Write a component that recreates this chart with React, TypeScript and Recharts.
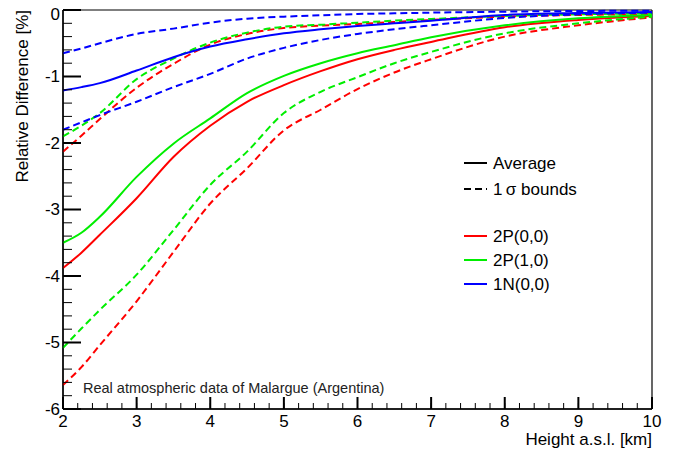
import React from "react"
import { LineChart, Line, XAxis, YAxis, ReferenceLine } from "recharts"

// height a.s.l. [km]
const heights = [2, 2.25, 2.5, 3, 3.5, 4, 4.5, 5, 5.5, 6, 6.5, 7, 8, 9, 10]

// 2P(0,0)
const redAvg = [-3.88, -3.65, -3.38, -2.83, -2.21, -1.74, -1.38, -1.13, -0.92, -0.74, -0.6, -0.48, -0.26, -0.15, -0.09]
const redHi = [-2.13, -1.89, -1.64, -1.17, -0.81, -0.52, -0.36, -0.27, -0.235, -0.21, -0.18, -0.15, -0.1, -0.075, -0.06]
const redLo = [-5.64, -5.37, -5.04, -4.38, -3.64, -2.91, -2.38, -1.81, -1.5, -1.19, -0.94, -0.74, -0.4, -0.23, -0.11]

// 2P(1,0)
const greenAvg = [-3.5, -3.35, -3.11, -2.51, -2.01, -1.63, -1.25, -0.99, -0.8, -0.65, -0.53, -0.41, -0.23, -0.125, -0.075]
const greenHi = [-1.9, -1.74, -1.55, -1.04, -0.73, -0.49, -0.34, -0.25, -0.22, -0.19, -0.16, -0.135, -0.09, -0.065, -0.05]
const greenLo = [-5.08, -4.79, -4.51, -3.98, -3.31, -2.63, -2.13, -1.55, -1.23, -1.01, -0.8, -0.63, -0.35, -0.2, -0.1]

// 1N(0,0)
const blueAvg = [-1.21, -1.16, -1.1, -0.91, -0.71, -0.55, -0.44, -0.35, -0.29, -0.24, -0.2, -0.16, -0.075, -0.045, -0.03]
const blueHi = [-0.65, -0.58, -0.5, -0.36, -0.28, -0.19, -0.13, -0.1, -0.08, -0.06, -0.05, -0.04, -0.025, -0.015, -0.01]
const blueLo = [-1.8, -1.69, -1.58, -1.38, -1.16, -0.96, -0.73, -0.57, -0.45, -0.36, -0.29, -0.23, -0.12, -0.065, -0.04]

// axis ticks (major + minor every 0.2)
const xTicks = Array.from({ length: 41 }, (_, i) => Math.round((2 + i * 0.2) * 10) / 10)
const yTicks = Array.from({ length: 31 }, (_, i) => Math.round((-6 + i * 0.2) * 10) / 10)

const legendStyles = ["Average", "1\u2009σ bounds"]
const legendSeries = ["2P(0,0)", "2P(1,0)", "1N(0,0)"]
const seriesColors = ["#ff0000", "#00ee00", "#0000ff"]

const data = heights.map((h, i) => ({
  h,
  redAvg: redAvg[i],
  redHi: redHi[i],
  redLo: redLo[i],
  greenAvg: greenAvg[i],
  greenHi: greenHi[i],
  greenLo: greenLo[i],
  blueAvg: blueAvg[i],
  blueHi: blueHi[i],
  blueLo: blueLo[i],
}))

const FONT = '"Liberation Sans", Arial, Helvetica, sans-serif'
const isMajor = (v: number) => Math.abs(v - Math.round(v)) < 1e-6

// native tick lines point inward (negative tickSize); majors get a longer stub + label
const X_TICK = 6
const Y_TICK = 9

const XTick = (props: any) => {
  const major = isMajor(props.payload.value)
  const x = Number(props.x)
  const axisY = Number(props.y) + X_TICK
  if (!major) return <g />
  return (
    <g>
      <rect x={x - 1} y={axisY - 12} width={2} height={12} fill="#000" />
      <text x={x} y={axisY + 12} textAnchor="middle" dominantBaseline="central" fontSize={17} fontFamily={FONT} fill="#000">
        {Math.round(props.payload.value)}
      </text>
    </g>
  )
}

const YTick = (props: any) => {
  const major = isMajor(props.payload.value)
  const axisX = Number(props.x) - Y_TICK
  const y = Number(props.y)
  const v = Math.round(props.payload.value)
  if (!major) return <g />
  return (
    <g>
      <rect x={axisX} y={y - 1} width={18} height={2} fill="#000" />
      <text x={axisX - 3} y={y + (v === 0 ? 4 : 0)} textAnchor="end" dominantBaseline="central" fontSize={17} fontFamily={FONT} fill="#000">
        {v}
      </text>
    </g>
  )
}

const DASH = "7 4"

export default function App() {
  return (
    <div style={{ position: "relative", width: 678, height: 451, margin: "-8px 0 0 -8px" }}>
      {/* titles, note and legend, ROOT style */}
      <svg width={678} height={451} style={{ position: "absolute", left: 0, top: 0 }} fontFamily={FONT}>
        <text x={22} y={10} transform="rotate(-90 22 10)" textAnchor="end" dominantBaseline="central" fontSize={17} fill="#000">
          Relative Difference [%]
        </text>
        <text x={652} y={439} textAnchor="end" dominantBaseline="central" fontSize={17} fill="#000">
          Height a.s.l. [km]
        </text>
        <text x={83} y={388} dominantBaseline="central" fontSize={14.5} fill="#222">
          Real atmospheric data of Malargue (Argentina)
        </text>
        {legendStyles.map((label, i) => (
          <g key={label}>
            <line x1={464} x2={487} y1={163 + i * 26} y2={163 + i * 26} stroke="#000" strokeWidth={2} strokeDasharray={i === 1 ? DASH : undefined} />
            <text x={493} y={163 + i * 26} dominantBaseline="central" fontSize={17} fill="#000">
              {label}
            </text>
          </g>
        ))}
        {legendSeries.map((label, i) => (
          <g key={label}>
            <line x1={464} x2={487} y1={236 + i * 24} y2={236 + i * 24} stroke={seriesColors[i]} strokeWidth={2} />
            <text x={493} y={236 + i * 24} dominantBaseline="central" fontSize={17} fill="#000">
              {label}
            </text>
          </g>
        ))}
      </svg>

      <div style={{ position: "relative" }}>
        <LineChart width={678} height={451} data={data} margin={{ top: 10, right: 26, bottom: 0, left: 0 }}>
          <XAxis
            dataKey="h"
            type="number"
            domain={[2, 10]}
            ticks={xTicks}
            interval={0}
            tick={<XTick />}
            stroke="#000"
            tickSize={-X_TICK}
            tickMargin={0}
            height={42}
          />
          <YAxis
            type="number"
            domain={[-6, 0]}
            ticks={yTicks}
            interval={0}
            tick={<YTick />}
            stroke="#000"
            tickSize={-Y_TICK}
            tickMargin={0}
            width={63}
          />
          <ReferenceLine y={0} stroke="#000" strokeWidth={1.2} />
          <ReferenceLine x={10} stroke="#000" strokeWidth={1.2} />
          <ReferenceLine x={2} stroke="#000" strokeWidth={1.5} />
          <ReferenceLine y={-6} stroke="#000" strokeWidth={1.5} />
          <Line dataKey="redHi" type="monotone" stroke={seriesColors[0]} strokeWidth={2} strokeDasharray={DASH} dot={false} isAnimationActive={false} />
          <Line dataKey="redLo" type="monotone" stroke={seriesColors[0]} strokeWidth={2} strokeDasharray={DASH} dot={false} isAnimationActive={false} />
          <Line dataKey="redAvg" type="monotone" stroke={seriesColors[0]} strokeWidth={2} dot={false} isAnimationActive={false} />
          <Line dataKey="greenHi" type="monotone" stroke={seriesColors[1]} strokeWidth={2} strokeDasharray={DASH} dot={false} isAnimationActive={false} />
          <Line dataKey="greenLo" type="monotone" stroke={seriesColors[1]} strokeWidth={2} strokeDasharray={DASH} dot={false} isAnimationActive={false} />
          <Line dataKey="greenAvg" type="monotone" stroke={seriesColors[1]} strokeWidth={2} dot={false} isAnimationActive={false} />
          <Line dataKey="blueHi" type="monotone" stroke={seriesColors[2]} strokeWidth={2} strokeDasharray={DASH} dot={false} isAnimationActive={false} />
          <Line dataKey="blueLo" type="monotone" stroke={seriesColors[2]} strokeWidth={2} strokeDasharray={DASH} dot={false} isAnimationActive={false} />
          <Line dataKey="blueAvg" type="monotone" stroke={seriesColors[2]} strokeWidth={2} dot={false} isAnimationActive={false} />
        </LineChart>
      </div>
    </div>
  )
}
